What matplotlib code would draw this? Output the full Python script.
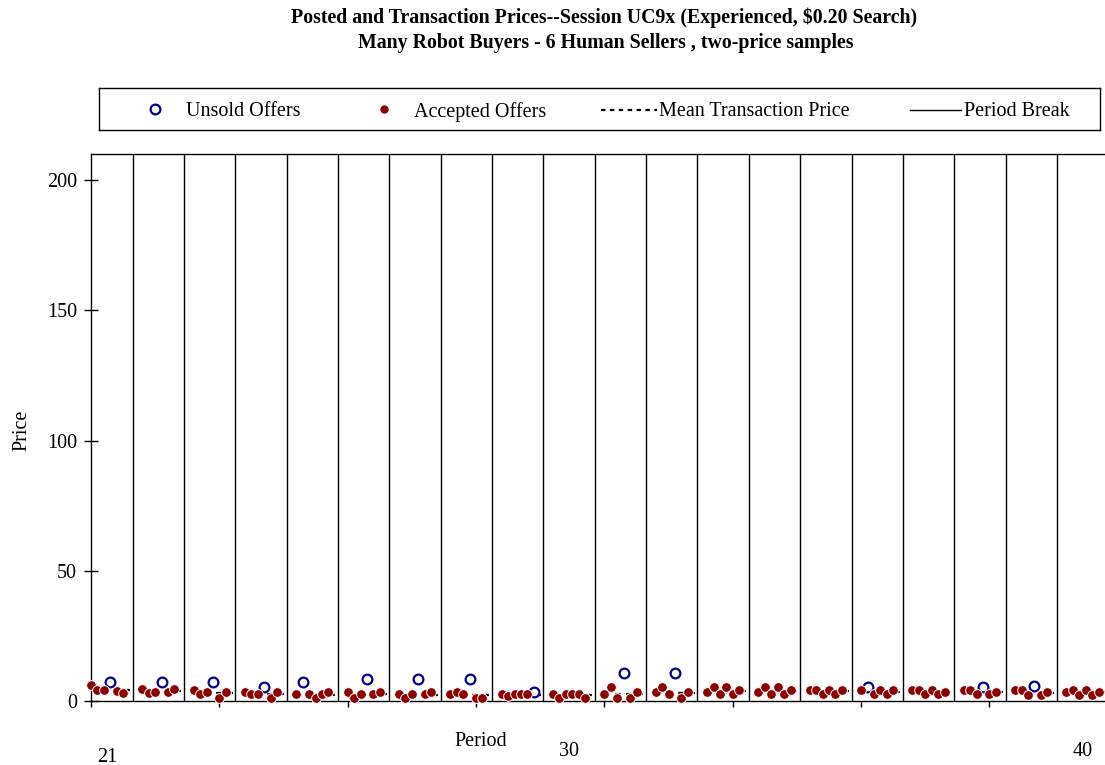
import matplotlib
matplotlib.use("Agg")
import matplotlib.pyplot as plt
import matplotlib.transforms as mtransforms
import numpy as np

plt.rcParams['font.family'] = ['Liberation Serif', 'DejaVu Serif']

# ---- data ----
periods = list(range(21, 41))
# six offers per period, in posting order (price)
offer_prices = [
    [6.2, 4.2, 4.2, 7.3, 4.0, 3.2],
    [4.5, 3.0, 3.3, 7.3, 3.3, 4.5],
    [4.2, 2.6, 3.3, 7.3, 1.3, 3.3],
    [3.3, 2.6, 2.6, 5.5, 1.3, 3.3],
    [2.6, 7.3, 2.6, 1.3, 2.6, 3.3],
    [3.3, 1.3, 2.6, 8.3, 2.6, 3.3],
    [2.6, 1.3, 2.6, 8.3, 2.6, 3.3],
    [2.6, 3.6, 2.6, 8.3, 1.3, 1.3],
    [2.6, 1.9, 2.6, 2.6, 2.6, 3.3],
    [2.6, 1.3, 2.6, 2.6, 2.6, 1.3],
    [2.6, 5.5, 1.3, 10.6, 1.3, 3.3],
    [3.3, 5.5, 2.6, 10.6, 1.3, 3.3],
    [3.3, 5.5, 2.6, 5.5, 2.6, 4.2],
    [3.3, 5.5, 2.6, 5.5, 2.6, 4.2],
    [4.2, 4.2, 2.6, 4.2, 2.6, 4.2],
    [4.2, 5.5, 2.6, 4.2, 2.6, 4.2],
    [4.2, 4.2, 2.6, 4.2, 2.6, 3.3],
    [4.2, 4.2, 2.6, 5.5, 2.6, 3.3],
    [4.2, 4.2, 2.3, 5.8, 2.3, 3.3],
    [3.3, 4.2, 2.3, 4.2, 2.3, 3.3],
]
# index of the unsold offer in each period (-1 = all accepted)
unsold_slot = [3, 3, 3, 3, 1, 3, 3, 3, 5, -1, 3, 3, -1, -1, -1, 1, -1, 3, 3, -1]
labeled_periods = [21, 30, 40]
y_ticks = [0, 50, 100, 150, 200]

SLOTS = 8  # x units per period

W, H = 1105, 765
fig = plt.figure(figsize=(W / 100, H / 100), dpi=100)

def fx(px):
    return px / W

def fy(py):
    return 1 - py / H

ax = fig.add_axes([fx(91), fy(701), fx(1105) - fx(91), fy(154) - fy(701)])

dark_red = '#8B0000'
navy = '#00008B'

acc_x, acc_y, uns_x, uns_y = [], [], [], []
for k, (p, prices, us) in enumerate(zip(periods, offer_prices, unsold_slot)):
    base = k * SLOTS
    acc_vals = []
    for j, v in enumerate(prices):
        if j == us:
            uns_x.append(base + j)
            uns_y.append(v)
        else:
            acc_x.append(base + j)
            acc_y.append(v)
            acc_vals.append(v)
    m = np.mean(acc_vals)
    end = base + 6.5 if k < len(periods) - 1 else base + 8
    ax.plot([base, end], [m, m], color='black', lw=1.6, ls=(0, (2.5, 2.5)), zorder=2)
    if k < len(periods) - 1:
        ax.axvline(base + 6.5, color='black', lw=1.0, zorder=1)

ax.plot(uns_x, uns_y, ls='none', marker='o', ms=7, mfc='white', mec=navy, mew=1.6, zorder=3,
        clip_on=False)
ax.plot(acc_x, acc_y, ls='none', marker='o', ms=7, mfc=dark_red, mec='white', mew=0.7, zorder=4,
        clip_on=False)

ax.set_xlim(0, 158)
ax.set_ylim(0, 210)
ax.set_yticks(y_ticks)
ax.set_yticklabels([str(t) for t in y_ticks], fontsize=14.5)
ax.set_xticks(np.arange(0, 158, 20))
ax.set_xticklabels([])
ax.tick_params(axis='y', direction='inout', length=10, width=1, pad=5)
ax.tick_params(axis='x', direction='out', length=4, width=1)
ax.spines['right'].set_visible(False)
for s in ['left', 'bottom', 'top']:
    ax.spines[s].set_linewidth(1)

# period labels
trans = mtransforms.blended_transform_factory(ax.transData, fig.transFigure)
label_y = {21: 757, 30: 752, 40: 751}
for p in labeled_periods:
    k = periods.index(p)
    ax.text(k * SLOTS + 2.5, fy(label_y[p]), str(p), transform=trans, ha='center', va='center',
            fontsize=14.5)

fig.text(fx(481), fy(742), 'Period', ha='center', va='center', fontsize=14.5)
fig.text(fx(22), fy(430), 'Price', ha='center', va='center', rotation=90, fontsize=14.5)

fig.text(fx(604), fy(18), 'Posted and Transaction Prices--Session UC9x (Experienced, $0.20 Search)',
         ha='center', va='center', fontsize=14.3, fontweight='bold')
fig.text(fx(606), fy(43), 'Many Robot Buyers - 6 Human Sellers , two-price samples',
         ha='center', va='center', fontsize=14.3, fontweight='bold')

# legend box
lax = fig.add_axes([fx(99), fy(130), fx(1100) - fx(99), fy(88) - fy(130)])
lax.set_xlim(99, 1100)
lax.set_ylim(130, 88)
lax.set_xticks([])
lax.set_yticks([])
for s in lax.spines.values():
    s.set_linewidth(1)
lax.plot([155], [108.5], marker='o', ms=7, mfc='white', mec=navy, mew=1.6, ls='none')
lax.text(186, 112, 'Unsold Offers', va='center', ha='left', fontsize=14.5)
lax.plot([384], [108.5], marker='o', ms=5, mfc=dark_red, mec=dark_red, ls='none')
lax.text(414, 112, 'Accepted Offers', va='center', ha='left', fontsize=14.5)
lax.plot([601, 657], [110, 110], color='black', lw=1.6, ls=(0, (2, 2)))
lax.text(659, 112, 'Mean Transaction Price', va='center', ha='left', fontsize=14.5)
lax.plot([910, 961], [110, 110], color='black', lw=1.0)
lax.text(964, 112, 'Period Break', va='center', ha='left', fontsize=14.5)

fig.savefig('out.png', dpi=100)
